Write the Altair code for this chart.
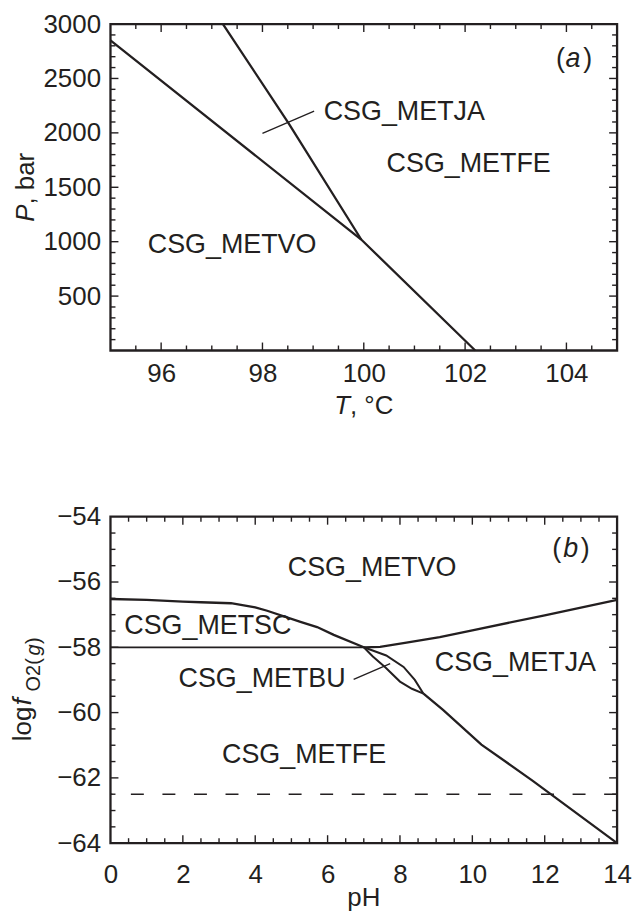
import altair as alt
import pandas as pd

W, H = 509, 328
FONT = "Liberation Sans"
FS = 26
LFS = 27
INK = "#231f20"

# ---------------- Panel (a): P-T diagram ----------------
a_xdom = [95, 105]
a_ydom = [0, 3000]
a_x_labels = [96, 98, 100, 102, 104]
a_y_labels = [500, 1000, 1500, 2000, 2500, 3000]
a_x_minor = [95.5 + 0.5 * i for i in range(19)]
a_y_minor = [100 * i for i in range(1, 30)]

# boundary lines (T, P)
a_vo_T = [95.0, 99.95, 102.2]
a_vo_P = [2850, 1020, 0]
a_ja_T = [97.22, 98.52, 99.95]
a_ja_P = [3000, 2085, 1020]
a_lead_T = [98.0, 99.02]
a_lead_P = [1996, 2199]

a_lab_text = ["CSG_METJA", "CSG_METFE", "CSG_METVO", "(", ")"]
a_lab_T = [100.8, 102.07, 97.40, 103.88, 104.42]
a_lab_P = [2193, 1713, 965, 2681, 2681]
a_ital_text = ["a"]
a_ital_T = [104.13]
a_ital_P = [2681]

# ---------------- Panel (b): log fO2 - pH diagram ----------------
b_xdom = [0, 14]
b_ydom = [-64, -54]
b_x_labels = [0, 2, 4, 6, 8, 10, 12, 14]
b_y_labels = [-64, -62, -60, -58, -56, -54]
b_x_minor = [0.5 * i for i in range(1, 28)]
b_y_minor = [-63.5 + 0.5 * i for i in range(19)]

b_h_pH = [0.0, 7.0]
b_h_f = [-58.0, -58.0]
b_sc_pH = [0.0, 1.0, 2.0, 2.5, 3.33, 4.0, 4.33, 5.25, 5.71, 6.17, 7.0]
b_sc_f = [-56.52, -56.55, -56.6, -56.62, -56.65, -56.78, -56.88, -57.22, -57.38, -57.62, -58.0]
b_ja_pH = [7.0, 7.45, 8.18, 9.1, 10.0, 12.0, 14.0]
b_ja_f = [-58.0, -57.99, -57.86, -57.69, -57.48, -57.02, -56.55]
b_bu_up_pH = [7.0, 7.62, 8.1, 8.41, 8.65]
b_bu_up_f = [-58.0, -58.25, -58.6, -59.0, -59.42]
b_bu_lo_pH = [7.0, 7.25, 7.6, 8.0, 8.33, 8.65]
b_bu_lo_f = [-58.0, -58.28, -58.62, -59.05, -59.27, -59.42]
b_fe_pH = [8.65, 9.19, 10.25, 11.67, 14.0]
b_fe_f = [-59.42, -59.92, -60.98, -62.09, -64.0]
b_lead_pH = [6.72, 7.73]
b_lead_f = [-58.98, -58.5]
b_dash_f = -62.5

b_lab_text = ["CSG_METVO", "CSG_METSC", "CSG_METBU", "CSG_METJA", "CSG_METFE", "(", ")"]
b_lab_pH = [7.23, 2.69, 4.19, 11.19, 5.35, 12.33, 13.12]
b_lab_f = [-55.58, -57.36, -58.98, -58.47, -61.31, -55.0, -55.0]
b_ital_text = ["b"]
b_ital_pH = [12.72]
b_ital_f = [-55.0]


def lines_df(segs):
    rows = []
    for name, xs, ys, w in segs:
        for i, (x, y) in enumerate(zip(xs, ys)):
            rows.append({"seg": name, "i": i, "x": x, "y": y, "w": w})
    return pd.DataFrame(rows)


def panel(segs, labels, italics, xdom, ydom, xlab, ylab, xmin, ymin,
          xpad, extra):
    xs = alt.Scale(domain=xdom, nice=False, zero=False)
    ys = alt.Scale(domain=ydom, nice=False, zero=False)
    ax_x = alt.Axis(values=xlab, ticks=False, domain=False, grid=False,
                    labelFont=FONT, labelFontSize=FS, labelColor=INK,
                    labelPadding=xpad, labelFlush=False, labelOverlap=False,
                    format="d", title=None)
    ax_y = alt.Axis(values=ylab, ticks=False, domain=False, grid=False,
                    labelFont=FONT, labelFontSize=FS, labelColor=INK,
                    labelPadding=10, labelFlush=False, labelOverlap=False,
                    format="d", title=None)

    def X(field=None, datum=None):
        if datum is not None:
            return alt.X(datum=datum, type="quantitative", scale=xs, axis=ax_x)
        return alt.X(field, type="quantitative", scale=xs, axis=ax_x)

    def Y(field=None, datum=None):
        if datum is not None:
            return alt.Y(datum=datum, type="quantitative", scale=ys, axis=ax_y)
        return alt.Y(field, type="quantitative", scale=ys, axis=ax_y)

    base = alt.Chart(lines_df(segs)).mark_line(color=INK).encode(
        x=X("x"), y=Y("y"),
        detail="seg:N",
        order="i:Q",
        strokeWidth=alt.StrokeWidth("w:Q", scale=None),
    )
    layers = [base]

    def tick_layer(vals, length, orient):
        d = pd.DataFrame({"v": vals})
        m = alt.Chart(d).mark_rule(color=INK, strokeWidth=1.4)
        if orient == "bottom":
            return m.encode(x=X("v"), y=alt.value(H), y2=alt.value(H - length))
        if orient == "top":
            return m.encode(x=X("v"), y=alt.value(0), y2=alt.value(length))
        if orient == "left":
            return m.encode(y=Y("v"), x=alt.value(0), x2=alt.value(length))
        return m.encode(y=Y("v"), x=alt.value(W), x2=alt.value(W - length))

    xmaj = [v for v in xlab if xdom[0] < v < xdom[1]]
    ymaj = [v for v in ylab if ydom[0] < v < ydom[1]]
    xmi = [v for v in xmin if v not in xlab]
    ymi = [v for v in ymin if v not in ylab]
    for o in ("bottom", "top"):
        layers.append(tick_layer(xmaj, 8, o))
        layers.append(tick_layer(xmi, 5, o))
    for o in ("left", "right"):
        layers.append(tick_layer(ymaj, 8, o))
        layers.append(tick_layer(ymi, 5, o))

    lab = pd.DataFrame({"t": labels[0], "x": labels[1], "y": labels[2]})
    layers.append(alt.Chart(lab).mark_text(font=FONT, fontSize=LFS, color=INK,
                                           baseline="middle", align="center").encode(
        x=X("x"), y=Y("y"), text="t:N"))
    it = pd.DataFrame({"t": italics[0], "x": italics[1], "y": italics[2]})
    layers.append(alt.Chart(it).mark_text(font=FONT, fontSize=LFS, color=INK,
                                          fontStyle="italic",
                                          baseline="middle", align="center").encode(
        x=X("x"), y=Y("y"), text="t:N"))
    for e in extra:
        layers.append(e(X, Y))
    return alt.layer(*layers).properties(width=W, height=H)


def title_piece(text, xval=None, yval=None, px=None, py=None, angle=0,
                dx=0, dy=0, size=FS, italic=False, align="left"):
    def make(X, Y):
        kw = dict(font=FONT, fontSize=size, color=INK, align=align,
                  baseline="alphabetic", dx=dx, dy=dy)
        if angle:
            kw["angle"] = angle
        if italic:
            kw["fontStyle"] = "italic"
        enc = {"text": alt.value(text)}
        enc["x"] = X(datum=xval) if xval is not None else alt.value(px)
        enc["y"] = Y(datum=yval) if yval is not None else alt.value(py)
        return alt.Chart(pd.DataFrame({"a": [0]})).mark_text(**kw).encode(**enc)
    return make


segs_a = [
    ("vo", a_vo_T, a_vo_P, 2.3),
    ("ja", a_ja_T, a_ja_P, 2.3),
    ("lead", a_lead_T, a_lead_P, 1.3),
]
extra_a = [
    title_piece("T", xval=100, py=H + 64, dx=-13.9, italic=True, align="right"),
    title_piece(", \u00b0C", xval=100, py=H + 64, dx=-13.9, align="left"),
    title_piece("P", yval=1500, px=-77, angle=270, dx=-34.7, italic=True),
    title_piece(", bar", yval=1500, px=-77, angle=270, dx=-17.4),
]
chart_a = panel(segs_a, (a_lab_text, a_lab_T, a_lab_P),
                (a_ital_text, a_ital_T, a_ital_P),
                a_xdom, a_ydom, a_x_labels, a_y_labels, a_x_minor, a_y_minor,
                10, extra_a)

segs_b = [
    ("h", b_h_pH, b_h_f, 1.8),
    ("sc", b_sc_pH, b_sc_f, 2.3),
    ("ja", b_ja_pH, b_ja_f, 2.3),
    ("buu", b_bu_up_pH, b_bu_up_f, 2.0),
    ("bul", b_bu_lo_pH, b_bu_lo_f, 2.0),
    ("fe", b_fe_pH, b_fe_f, 2.3),
    ("lead", b_lead_pH, b_lead_f, 1.3),
]


def dash_layer(X, Y):
    return alt.Chart(pd.DataFrame({"f": [b_dash_f]})).mark_rule(
        color=INK, strokeWidth=1.5, strokeDash=[13, 18.7]).encode(y=Y("f"))


extra_b = [
    dash_layer,
    title_piece("pH", xval=7, py=H + 63, align="center"),
    title_piece("log", yval=-59, px=-80, angle=270, dx=-61.5),
    title_piece("f", yval=-59, px=-80, angle=270, dx=-25.5, italic=True),
    title_piece("O2(", yval=-59, px=-71, angle=270, dx=-11.5, size=20),
    title_piece("g", yval=-59, px=-71, angle=270, dx=24.5, size=20, italic=True),
    title_piece(")", yval=-59, px=-71, angle=270, dx=36.0, size=20),
]
chart_b = panel(segs_b, (b_lab_text, b_lab_pH, b_lab_f),
                (b_ital_text, b_ital_pH, b_ital_f),
                b_xdom, b_ydom, b_x_labels, b_y_labels, b_x_minor, b_y_minor,
                19, extra_b)

chart = alt.vconcat(chart_a, chart_b, spacing=81).properties(
    padding={"left": 8, "top": 7, "right": 2, "bottom": 0},
    background="white",
).configure_view(stroke=INK, strokeWidth=2.3)

chart.save("out.html", embed_options={"renderer": "svg", "actions": False})
